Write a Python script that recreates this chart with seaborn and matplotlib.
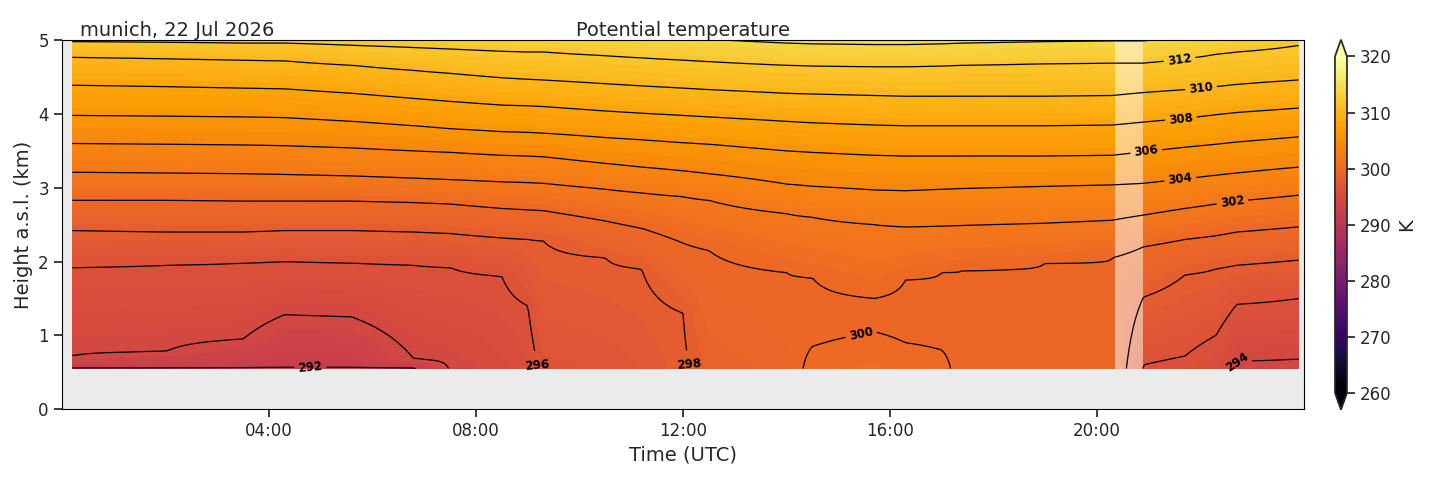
import numpy as np
import matplotlib
matplotlib.use("Agg")
import matplotlib.pyplot as plt
import seaborn as sns

nan = np.nan
# time nodes (hours UTC)
T = [0.2, 2.0, 3.5, 4.3, 5.6, 6.8, 7.5, 8.5, 9.0, 9.3, 10.5, 11.2, 12.0, 12.5,
     14.0, 14.5, 15.7, 16.3, 17.0, 17.4, 19.0, 20.3, 20.9, 21.7, 22.3, 22.7, 23.9]
# potential temperature at the lowest retrieval height (K)
SFC = [291.9, 291.9, 291.9, 291.8, 291.8, 291.9, 294.1, 294.8, 295.4, 296.3, 296.6, 297.0, 297.8, 298.6,
       299.3, 300.4, 300.6, 300.4, 300.3, 299.6, 299.6, 299.7, 295.9, 295.6, 295.0, 293.9, 293.8]
Z_BOTTOM = 0.55
# heights (km) of isentropes at each time node
H292 = [0.56, 0.56, 0.56, 0.56, 0.56, 0.56] + [nan] * 21
H294 = [0.72, 0.78, 0.95, 1.28, 1.25, 0.68] + [nan] * 19 + [0.65, 0.68]
H296 = [1.92, 1.95, 1.98, 2.0, 1.98, 1.95, 1.92, 1.8, 1.4] + [nan] * 13 + [0.6, 0.72, 1.0, 1.42, 1.5]
H298 = [2.42, 2.4, 2.4, 2.42, 2.42, 2.4, 2.38, 2.32, 2.3, 2.28, 2.05, 1.9, 1.3] + [nan] * 9 + [1.52, 1.82, 1.9, 1.95, 2.02]
B300 = [nan] * 15 + [0.85, 1.05, 0.9, 0.8] + [nan] * 8
M2997 = [nan] * 15 + [1.2, 1.3, 1.25, 1.2] + [nan] * 8
H300 = [2.83, 2.83, 2.82, 2.82, 2.82, 2.8, 2.78, 2.72, 2.7, 2.69, 2.55, 2.45, 2.25, 2.15,
        1.85, 1.78, 1.5, 1.75, 1.85, 1.88, 1.98, 2.05, 2.2, 2.3, 2.35, 2.4, 2.47]
H302 = [3.21, 3.20, 3.19, 3.18, 3.16, 3.13, 3.11, 3.08, 3.07, 3.06, 2.98, 2.93, 2.88, 2.83,
        2.65, 2.6, 2.5, 2.47, 2.48, 2.49, 2.52, 2.56, 2.63, 2.72, 2.78, 2.82, 2.90]
H304 = [3.60, 3.59, 3.58, 3.57, 3.54, 3.50, 3.48, 3.44, 3.43, 3.42, 3.33, 3.28, 3.23, 3.19,
        3.05, 3.02, 2.97, 2.96, 2.98, 2.99, 3.02, 3.04, 3.06, 3.12, 3.17, 3.20, 3.28]
H306 = [3.98, 3.97, 3.96, 3.95, 3.90, 3.84, 3.80, 3.76, 3.75, 3.74, 3.68, 3.65, 3.61, 3.59,
        3.50, 3.48, 3.44, 3.43, 3.43, 3.43, 3.43, 3.44, 3.49, 3.55, 3.59, 3.62, 3.69]
H308 = [4.39, 4.37, 4.35, 4.34, 4.28, 4.21, 4.17, 4.12, 4.11, 4.10, 4.04, 4.01, 3.98, 3.96,
        3.90, 3.88, 3.85, 3.84, 3.84, 3.84, 3.84, 3.85, 3.89, 3.94, 3.99, 4.02, 4.08]
H310 = [4.77, 4.75, 4.73, 4.72, 4.66, 4.59, 4.55, 4.49, 4.47, 4.46, 4.41, 4.38, 4.35, 4.33,
        4.28, 4.27, 4.25, 4.24, 4.24, 4.24, 4.24, 4.25, 4.29, 4.33, 4.37, 4.40, 4.46]
H312 = [4.98, 4.97, 4.96, 4.96, 4.93, 4.90, 4.88, 4.85, 4.84, 4.84, 4.79, 4.76, 4.73, 4.71,
        4.66, 4.65, 4.64, 4.64, 4.65, 4.66, 4.68, 4.69, 4.69, 4.75, 4.81, 4.84, 4.93]
ISENTROPES = [(292, H292), (294, H294), (296, H296), (298, H298), (300, B300), (299.7, M2997),
              (300, H300), (302, H302), (304, H304), (306, H306), (308, H308), (310, H310), (312, H312)]
XTICKS = [4, 8, 12, 16, 20]
XTICKLABELS = ["04:00", "08:00", "12:00", "16:00", "20:00"]
GAP = (20.35, 20.88)
LABEL_POS = [(21.6, 4.72), (22.0, 4.42), (21.6, 4.07), (20.95, 3.5), (21.6, 3.17), (22.6, 2.88),
             (15.5, 0.85), (12.3, 0.62), (9.4, 0.62), (22.6, 0.66), (4.8, 0.56)]

# build field
z = np.linspace(Z_BOTTOM, 5.0, 220)
prof = []
for i in range(len(T)):
    kz = [Z_BOTTOM]; kv = [SFC[i]]
    for lev, arr in ISENTROPES:
        if not np.isnan(arr[i]):
            kz.append(arr[i]); kv.append(lev)
    o = np.argsort(kz)
    kz = list(np.array(kz)[o]); kv = list(np.array(kv)[o])
    kz.append(kz[-1] + 1.5); kv.append(kv[-1] + 1.5 * 2 / 0.3)
    prof.append(np.interp(z, kz, kv))
prof = np.array(prof)
t = np.linspace(T[0], T[-1], 700)
field = np.array([np.interp(t, T, prof[:, k]) for k in range(len(z))])

sns.set_theme(style="ticks")
plt.rcParams['font.family'] = ['DejaVu Sans']
fig = plt.figure(figsize=(14.29, 4.78), dpi=100)
ax = fig.add_axes([0.0434, 0.144, 0.8691, 0.772])
cax = fig.add_axes([0.9342, 0.143, 0.0084, 0.774])
ax.set_facecolor('#ebebeb')
cf = ax.contourf(t, z, field, levels=np.arange(260, 320.5, 0.5), cmap='inferno', extend='both')
cs = ax.contour(t, z, field, levels=np.arange(292, 315, 2), colors='black', linewidths=0.9)
cl = ax.clabel(cs, fmt='%d', fontsize=8.5, manual=LABEL_POS, inline=True)
for txt in cl:
    txt.set_fontweight('bold')
    if txt.get_text() in ('296', '298', '292'):
        txt.set_rotation(5)
ax.axvspan(GAP[0], GAP[1], ymin=Z_BOTTOM / 5, ymax=1, color='white', alpha=0.5, lw=0)
ax.set_xlim(0, 24); ax.set_ylim(0, 5)
ax.set_xticks(XTICKS); ax.set_xticklabels(XTICKLABELS, fontsize=12)
ax.set_yticks([0, 1, 2, 3, 4, 5]); ax.tick_params(labelsize=12)
ax.set_xlabel("Time (UTC)", fontsize=14)
ax.set_ylabel("Height a.s.l. (km)", fontsize=14)
ax.set_title("Potential temperature", fontsize=14, pad=3)
fig.text(0.056, 0.925, "munich, 22 Jul 2026", fontsize=14)
for s in ax.spines.values():
    s.set_color('black'); s.set_linewidth(0.8)
cb = fig.colorbar(cf, cax=cax, ticks=np.arange(260, 321, 10), extend='both')
cb.set_label("K", fontsize=14)
cb.ax.tick_params(labelsize=12)
fig.savefig("out.png", dpi=100)
